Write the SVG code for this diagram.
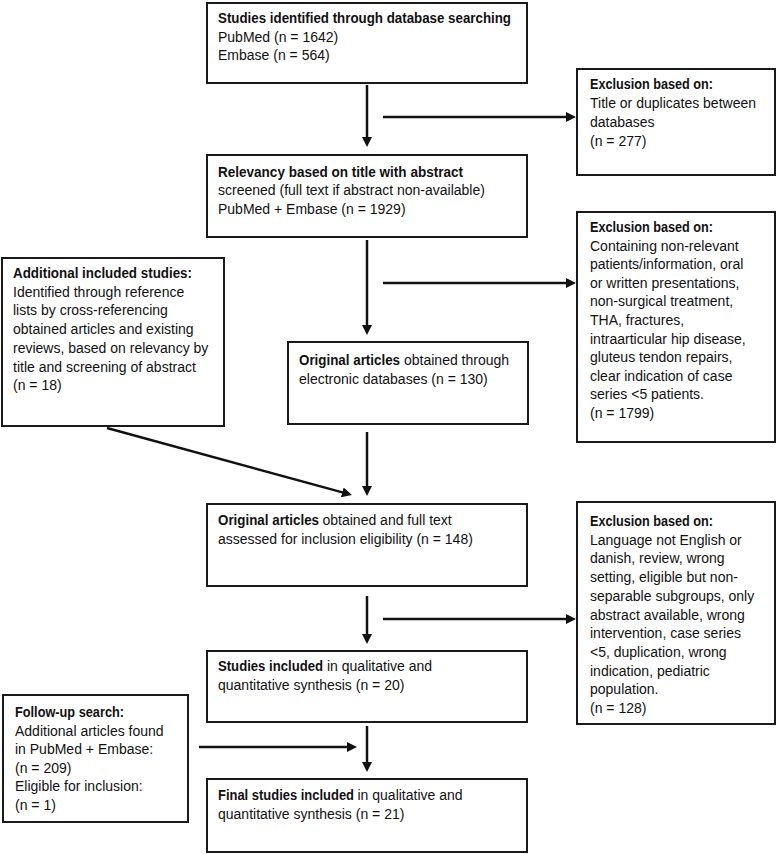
<svg xmlns="http://www.w3.org/2000/svg" width="777" height="854" viewBox="0 0 777 854">
<style>
.box{fill:#fff;stroke:#1a1a1a;stroke-width:2}
.t{font-family:"Liberation Sans",Arial,sans-serif;font-size:14px;fill:#111}
.b{font-family:"Liberation Sans",Arial,sans-serif;font-weight:bold;font-size:14px;fill:#111}
.c{stroke:#111;stroke-width:2.5;fill:none;marker-end:url(#ah)}
</style>
<defs>
<marker id="ah" markerUnits="userSpaceOnUse" markerWidth="10" markerHeight="10" refX="3" refY="5" orient="auto" viewBox="0 0 10 10">
<path d="M0,0 L10,5 L0,10 z" fill="#111"/>
</marker>
</defs>
<rect width="777" height="854" fill="#fff"/>
<g id="connectors">
<line class="c" x1="367" y1="85" x2="367" y2="140"/>
<line class="c" x1="383" y1="117" x2="569" y2="117"/>
<line class="c" x1="367" y1="240" x2="367" y2="328"/>
<line class="c" x1="383" y1="283" x2="569" y2="283"/>
<line class="c" x1="367" y1="432" x2="367" y2="489"/>
<line class="c" x1="107" y1="428" x2="345.2" y2="493.1"/>
<line class="c" x1="383" y1="619" x2="569" y2="619"/>
<line class="c" x1="367" y1="596" x2="367" y2="637"/>
<line class="c" x1="367" y1="726" x2="367" y2="765"/>
<line class="c" x1="199" y1="747" x2="350" y2="747"/>
</g>
<g id="n1">
<rect class="box" x="207" y="3" width="320" height="80"/>
<text class="b" x="218" y="23" textLength="293" lengthAdjust="spacingAndGlyphs">Studies identified through database searching</text>
<text class="t" x="218" y="41.5">PubMed (n = 1642)</text>
<text class="t" x="218" y="60">Embase (n = 564)</text>
</g>
<g id="excl1">
<rect class="box" x="577" y="69" width="198" height="106"/>
<text class="b" x="590" y="89" textLength="123" lengthAdjust="spacingAndGlyphs">Exclusion based on:</text>
<text class="t" x="590" y="108">Title or duplicates between</text>
<text class="t" x="590" y="127">databases</text>
<text class="t" x="590" y="145.5">(n = 277)</text>
</g>
<g id="n2">
<rect class="box" x="207" y="155" width="320" height="82"/>
<text class="b" x="218" y="177" textLength="245" lengthAdjust="spacingAndGlyphs">Relevancy based on title with abstract</text>
<text class="t" x="218" y="195">screened (full text if abstract non-available)</text>
<text class="t" x="218" y="213.5">PubMed + Embase (n = 1929)</text>
</g>
<g id="excl2">
<rect class="box" x="577" y="212" width="198" height="230"/>
<text class="b" x="590" y="232" textLength="123" lengthAdjust="spacingAndGlyphs">Exclusion based on:</text>
<text class="t" x="590" y="250.6">Containing non-relevant</text>
<text class="t" x="590" y="269.2">patients/information, oral</text>
<text class="t" x="590" y="287.8">or written presentations,</text>
<text class="t" x="590" y="306.4">non-surgical treatment,</text>
<text class="t" x="590" y="325">THA, fractures,</text>
<text class="t" x="590" y="343.6">intraarticular hip disease,</text>
<text class="t" x="590" y="362.2">gluteus tendon repairs,</text>
<text class="t" x="590" y="380.8">clear indication of case</text>
<text class="t" x="590" y="399.4">series &lt;5 patients.</text>
<text class="t" x="590" y="418">(n = 1799)</text>
</g>
<g id="additional">
<rect class="box" x="2" y="258" width="222" height="168"/>
<text class="b" x="13" y="278" textLength="179" lengthAdjust="spacingAndGlyphs">Additional included studies:</text>
<text class="t" x="13" y="296.7">Identified through reference</text>
<text class="t" x="13" y="315.4">lists by cross-referencing</text>
<text class="t" x="13" y="334.1">obtained articles and existing</text>
<text class="t" x="13" y="352.8">reviews, based on relevancy by</text>
<text class="t" x="13" y="371.5">title and screening of abstract</text>
<text class="t" x="13" y="390.2">(n = 18)</text>
</g>
<g id="n3">
<rect class="box" x="288" y="342" width="240" height="82"/>
<text class="b" x="299" y="365" textLength="101" lengthAdjust="spacingAndGlyphs">Original articles</text>
<text class="t" x="404" y="365">obtained through</text>
<text class="t" x="299" y="384">electronic databases (n = 130)</text>
</g>
<g id="n4">
<rect class="box" x="207" y="504" width="320" height="82"/>
<text class="b" x="218" y="525" textLength="101" lengthAdjust="spacingAndGlyphs">Original articles</text>
<text class="t" x="322.5" y="525">obtained and full text</text>
<text class="t" x="218" y="544">assessed for inclusion eligibility (n = 148)</text>
</g>
<g id="excl3">
<rect class="box" x="577" y="502" width="198" height="222"/>
<text class="b" x="590" y="526" textLength="123" lengthAdjust="spacingAndGlyphs">Exclusion based on:</text>
<text class="t" x="590" y="544.7">Language not English or</text>
<text class="t" x="590" y="563.4">danish, review, wrong</text>
<text class="t" x="590" y="582.1">setting, eligible but non-</text>
<text class="t" x="590" y="600.8">separable subgroups, only</text>
<text class="t" x="590" y="619.5">abstract available, wrong</text>
<text class="t" x="590" y="638.2">intervention, case series</text>
<text class="t" x="590" y="656.9">&lt;5, duplication, wrong</text>
<text class="t" x="590" y="675.6">indication, pediatric</text>
<text class="t" x="590" y="694.3">population.</text>
<text class="t" x="590" y="713">(n = 128)</text>
</g>
<g id="n5">
<rect class="box" x="207" y="651" width="320" height="71"/>
<text class="b" x="218" y="671" textLength="105" lengthAdjust="spacingAndGlyphs">Studies included</text>
<text class="t" x="327" y="671">in qualitative and</text>
<text class="t" x="218" y="690">quantitative synthesis (n = 20)</text>
</g>
<g id="followup">
<rect class="box" x="3" y="695" width="185" height="127"/>
<text class="b" x="15" y="717" textLength="109" lengthAdjust="spacingAndGlyphs">Follow-up search:</text>
<text class="t" x="15" y="735.6">Additional articles found</text>
<text class="t" x="15" y="754.2">in PubMed + Embase:</text>
<text class="t" x="15" y="772.8">(n = 209)</text>
<text class="t" x="15" y="791.4">Eligible for inclusion:</text>
<text class="t" x="15" y="810">(n = 1)</text>
</g>
<g id="n6">
<rect class="box" x="207" y="779" width="320" height="73"/>
<text class="b" x="218" y="800" textLength="136" lengthAdjust="spacingAndGlyphs">Final studies included</text>
<text class="t" x="357.5" y="800">in qualitative and</text>
<text class="t" x="218" y="819">quantitative synthesis (n = 21)</text>
</g>
</svg>
